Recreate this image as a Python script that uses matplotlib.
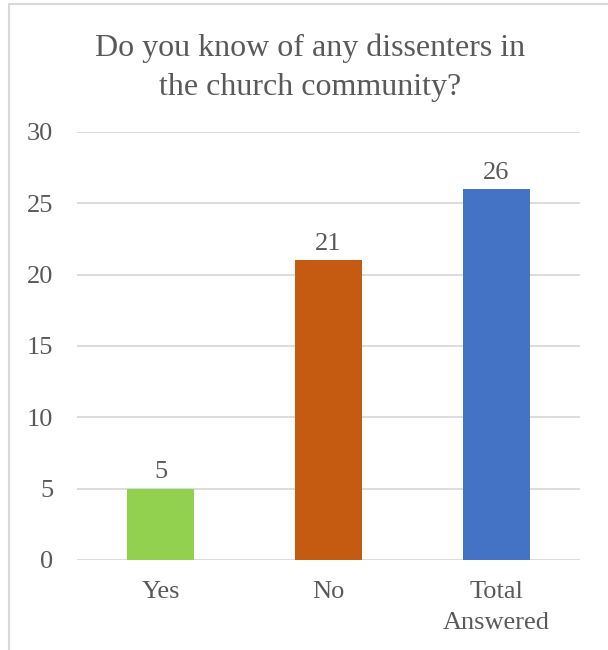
import matplotlib
matplotlib.use("Agg")
import matplotlib.pyplot as plt
from matplotlib.patches import Rectangle

categories = ["Yes", "No", "Total\nAnswered"]
counts = [5, 21, 26]
bar_colors = ["#92d050", "#c55a11", "#4472c4"]
y_ticks = [0, 5, 10, 15, 20, 25, 30]
title = "Do you know of any dissenters in\nthe church community?"

text_color = "#595959"
grid_color = "#d9d9d9"

plt.rcParams["font.family"] = ["Liberation Serif", "DejaVu Serif"]

fig = plt.figure(figsize=(6.08, 6.5), dpi=100)
fig.patch.set_facecolor("white")

# chart-area frame (extends past the right and bottom edges)
fig.patches.append(Rectangle((9 / 608, -0.1), 1.2, 1 - 4 / 650 + 0.1,
                             transform=fig.transFigure, fill=False,
                             edgecolor=grid_color, linewidth=1.5))

ax = fig.add_axes([77 / 608, 1 - 560 / 650, (580 - 77) / 608, (560 - 132) / 650])
x = range(len(categories))
bars = ax.bar(x, counts, width=0.4, color=bar_colors, zorder=3)
ax.set_xlim(-0.5, len(categories) - 0.5)
ax.set_ylim(0, 30)
ax.set_yticks(y_ticks)
ax.set_xticks(list(x))
ax.set_xticklabels(categories, linespacing=1.55)
ax.yaxis.grid(True, color=grid_color, linewidth=1.3, zorder=0)
for s in ax.spines.values():
    s.set_visible(False)
ax.tick_params(axis="both", length=0, labelsize=19, colors=text_color)
ax.tick_params(axis="y", pad=17)
ax.tick_params(axis="x", pad=15)

for b, v in zip(bars, counts):
    ax.annotate(str(v), (b.get_x() + b.get_width() / 2, v),
                xytext=(0, 4), textcoords="offset points",
                ha="center", va="bottom", fontsize=19, color=text_color)

fig.text(310 / 608, 1 - 68 / 650, title, ha="center", va="center",
         fontsize=23, color=text_color, linespacing=1.45)

fig.savefig("out.png", dpi=100)
